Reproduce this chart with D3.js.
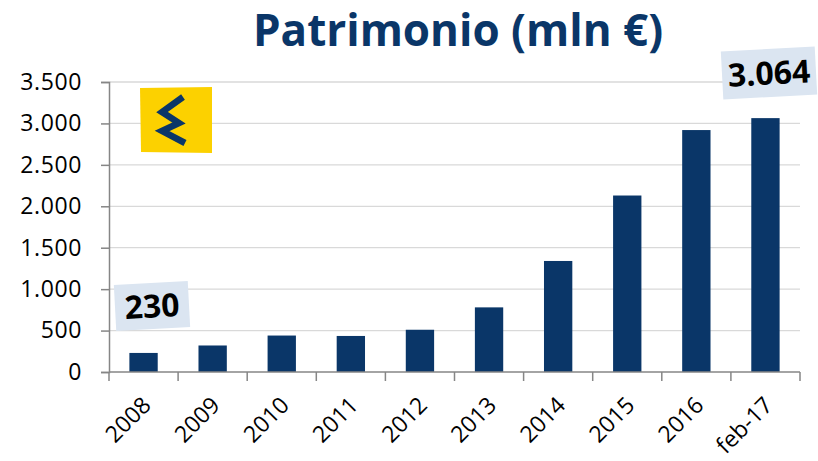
<!DOCTYPE html>
<html>
<head>
<meta charset="utf-8">
<script src="https://cdn.jsdelivr.net/npm/d3@7"></script>
<style>
  body { margin: 0; background: #fff; }
  svg { display: block; }
</style>
</head>
<body>
<div id="chart"></div>
<script>
// data
var categories = ['2008', '2009', '2010', '2011', '2012', '2013', '2014', '2015', '2016', 'feb-17'];
var values = [230, 320, 440, 435, 510, 780, 1340, 2130, 2920, 3064];
var yTicks = [0, 500, 1000, 1500, 2000, 2500, 3000, 3500];
var callouts = [
  {index: 0, text: '230'},
  {index: 9, text: '3.064'}
];

var width = 818, height = 461;
var margin = {left: 109, right: 18, top: 82, bottom: 89};
var navy = '#0a3668';

var svg = d3.select('#chart').append('svg')
  .attr('width', width)
  .attr('height', height);

var x = d3.scaleBand()
  .domain(categories)
  .range([margin.left, width - margin.right])
  .paddingInner(0.59)
  .paddingOuter(0.295);

var y = d3.scaleLinear()
  .domain([0, 3500])
  .range([height - margin.bottom, margin.top]);

var fmt = function(d) {
  return d3.format(',')(d).replace(/,/g, '.');
};

// gridlines
svg.append('g')
  .selectAll('line')
  .data(yTicks.slice(1))
  .enter()
  .append('line')
  .attr('x1', margin.left)
  .attr('x2', width - margin.right)
  .attr('y1', function(d) { return y(d); })
  .attr('y2', function(d) { return y(d); })
  .attr('stroke', '#d9d9d9')
  .attr('stroke-width', 1.3);

// logo
var logo = svg.append('g').attr('transform', 'translate(138,87)');
logo.append('path')
  .attr('d', 'M2,1 L74,0 L74,66 L3,65 Z')
  .attr('fill', '#fcd100');
logo.append('path')
  .attr('d', 'M45,10 L24,25 L41,36 L24,44 L47,56')
  .attr('fill', 'none')
  .attr('stroke', navy)
  .attr('stroke-width', 6.5)
  .attr('stroke-linecap', 'butt')
  .attr('stroke-linejoin', 'miter');

// bars
svg.append('g')
  .selectAll('rect')
  .data(values)
  .enter()
  .append('rect')
  .attr('x', function(d, i) { return x(categories[i]); })
  .attr('y', function(d) { return y(d); })
  .attr('width', x.bandwidth())
  .attr('height', function(d) { return y(0) - y(d); })
  .attr('fill', navy);

// y axis
var yAxis = svg.append('g')
  .attr('transform', 'translate(' + margin.left + ',0)')
  .call(d3.axisLeft(y).tickValues(yTicks).tickFormat(fmt).tickSize(8).tickPadding(19));

// x axis: ticks sit between the categories
var edges = d3.range(categories.length + 1).map(function(i) {
  return margin.left + i * x.step();
});
var xAxis = svg.append('g');
xAxis.append('line')
  .attr('x1', margin.left).attr('x2', width - margin.right)
  .attr('y1', y(0)).attr('y2', y(0));
xAxis.selectAll('line.tick')
  .data(edges)
  .enter()
  .append('line')
  .attr('class', 'tick')
  .attr('x1', function(d) { return d; })
  .attr('x2', function(d) { return d; })
  .attr('y1', y(0))
  .attr('y2', y(0) + 9);
xAxis.selectAll('line').attr('stroke', '#868686').attr('stroke-width', 1.5);

xAxis.selectAll('text')
  .data(categories)
  .enter()
  .append('text')
  .attr('transform', function(d) {
    return 'translate(' + (x(d) + x.bandwidth() / 2 + 3) + ',' + (y(0) + 29) + ') rotate(-45)';
  })
  .attr('text-anchor', 'end')
  .attr('dy', '0.35em')
  .attr('font-family', 'Open Sans, sans-serif')
  .attr('font-size', '23px')
  .attr('fill', '#000')
  .text(function(d) { return d; });

yAxis.select('.domain').attr('stroke', '#868686').attr('stroke-width', 1.5);
yAxis.selectAll('.tick line').attr('stroke', '#868686').attr('stroke-width', 1.5);
yAxis.selectAll('.tick text')
  .attr('font-family', 'Open Sans, sans-serif')
  .attr('font-size', '23px')
  .attr('letter-spacing', '0.6px')
  .attr('fill', '#000');

// title
svg.append('text')
  .attr('x', 458)
  .attr('y', 46)
  .attr('text-anchor', 'middle')
  .attr('font-family', 'Open Sans, sans-serif')
  .attr('font-weight', 'bold')
  .attr('font-size', '44px')
  .attr('fill', navy)
  .text('Patrimonio (mln €)');

// value callouts
var boxes = [
  {w: 74, h: 46, cx: 152, cy: 306, rot: -3},
  {w: 94, h: 48, cx: 769, cy: 73, rot: -3}
];
callouts.forEach(function(c, k) {
  var b = boxes[k];
  var g = svg.append('g')
    .attr('transform', 'translate(' + b.cx + ',' + b.cy + ') rotate(' + b.rot + ')');
  g.append('rect')
    .attr('x', -b.w / 2).attr('y', -b.h / 2)
    .attr('width', b.w).attr('height', b.h)
    .attr('fill', '#dbe5f1');
  g.append('text')
    .attr('text-anchor', 'middle')
    .attr('dy', '0.36em')
    .attr('font-family', 'Open Sans, sans-serif')
    .attr('font-weight', 'bold')
    .attr('font-size', '32px')
    .attr('fill', '#000')
    .text(c.text);
});
</script>
</body>
</html>
